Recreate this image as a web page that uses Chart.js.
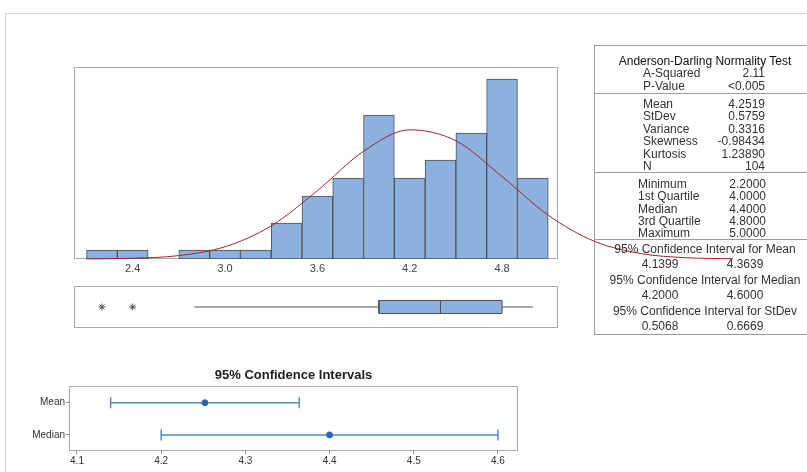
<!DOCTYPE html>
<html>
<head>
<meta charset="utf-8">
<script src="https://cdn.jsdelivr.net/npm/chart.js@4.4.1/dist/chart.umd.min.js"></script>
<style>
html, body { margin: 0; padding: 0; background: #fff; }
body { width: 807px; height: 472px; position: relative; overflow: hidden; font-family: "Liberation Sans", Arial, sans-serif; }
canvas { position: absolute; }
#outer { position: absolute; left: 5px; top: 13px; width: 830px; height: 480px; border-top: 1px solid #d6d6d6; border-left: 1px solid #d6d6d6; }
#stats { position: absolute; left: 594px; top: 45px; width: 240px; height: 290px; border: 1px solid #9c9c9c; box-sizing: border-box; }
.t { position: absolute; font-size: 12px; line-height: 14px; color: #333; white-space: nowrap; }
.sep { position: absolute; left: 594px; width: 240px; height: 0; border-top: 1px solid #9c9c9c; }
</style>
</head>
<body>
<div id="outer"></div>
<div id="stats"></div>
<canvas id="hist" width="807" height="290" style="left:0;top:0"></canvas>
<canvas id="box" width="807" height="56" style="left:0;top:280px"></canvas>
<canvas id="ci" width="587" height="112" style="left:0;top:360px"></canvas>
<script>
// histogram: bin midpoints and counts (bin width 0.2)
const binMid = [2.2, 2.4, 2.6, 2.8, 3.0, 3.2, 3.4, 3.6, 3.8, 4.0, 4.2, 4.4, 4.6, 4.8, 5.0];
const binCount = [1, 1, 0, 1, 1, 1, 4, 7, 9, 16, 9, 11, 14, 20, 9];
const histTicks = [2.4, 3.0, 3.6, 4.2, 4.8];

// fitted normal curve (in counts)
const fitX = [2.1, 2.4, 2.7, 3.0, 3.3, 3.6, 3.9, 4.2, 4.5, 4.8, 5.1, 5.4, 5.7, 6.0, 6.3];
const fitY = [0.01, 0.08, 0.38, 1.36, 3.68, 7.59, 11.96, 14.35, 13.13, 9.16, 4.87, 1.97, 0.61, 0.14, 0.03];

// boxplot: low whisker, Q1, median, Q3, high whisker, outliers
const boxStats = [2.8, 4.0, 4.4, 4.8, 5.0];
const boxOutliers = [2.2, 2.4];

// 95% confidence intervals
const ciRows = ['Mean', 'Median'];
const ciLow = [4.1399, 4.2000];
const ciEst = [4.2519, 4.4000];
const ciHigh = [4.3639, 4.6000];
const ciTicks = [4.1, 4.2, 4.3, 4.4, 4.5, 4.6];

// summary table
const adRows = [['A-Squared', '2.11'], ['P-Value', '<0.005']];
const momentRows = [['Mean', '4.2519'], ['StDev', '0.5759'], ['Variance', '0.3316'], ['Skewness', '-0.98434'], ['Kurtosis', '1.23890'], ['N', '104']];
const quantRows = [['Minimum', '2.2000'], ['1st Quartile', '4.0000'], ['Median', '4.4000'], ['3rd Quartile', '4.8000'], ['Maximum', '5.0000']];
const ciTable = [
  ['95% Confidence Interval for Mean', '4.1399', '4.3639'],
  ['95% Confidence Interval for Median', '4.2000', '4.6000'],
  ['95% Confidence Interval for StDev', '0.5068', '0.6669']
];

const X_MIN = 2.0186, X_MAX = 5.1635;
const BAR_BLUE = '#8db1de';
const EDGE = '#505050';

Chart.defaults.font.family = '"Liberation Sans", Arial, sans-serif';
Chart.defaults.animation = false;

const framePlugin = {
  id: 'frame',
  beforeDatasetsDraw(chart) {
    const a = chart.chartArea, ctx = chart.ctx;
    ctx.save();
    ctx.strokeStyle = '#a8a8a8';
    ctx.lineWidth = 1;
    ctx.strokeRect(Math.round(a.left) + 0.5, Math.round(a.top) + 0.5, Math.round(a.width) - 1, Math.round(a.height) - 1);
    ctx.restore();
  }
};

// --- histogram with fitted curve ---
new Chart(document.getElementById('hist'), {
  type: 'bar',
  data: {
    datasets: [{
      type: 'line',
      data: fitX.map((x, i) => ({ x: x, y: fitY[i] })),
      borderColor: '#a3232a',
      borderWidth: 1,
      pointRadius: 0,
      cubicInterpolationMode: 'monotone',
      clip: false,
      order: 0
    }, {
      data: binMid.map((x, i) => ({ x: x, y: binCount[i] })),
      backgroundColor: BAR_BLUE,
      borderColor: EDGE,
      borderWidth: c => (c.raw && c.raw.y ? 1 : 0),
      borderSkipped: false,
      barPercentage: 1,
      categoryPercentage: 1,
      order: 1
    }]
  },
  options: {
    responsive: false,
    layout: { padding: { left: 74, right: 249, top: 67, bottom: 11 } },
    plugins: { legend: { display: false }, tooltip: { enabled: false } },
    scales: {
      x: {
        type: 'linear',
        bounds: 'data',
        offset: false,
        afterDataLimits(s) { s.min = X_MIN; s.max = X_MAX; },
        afterBuildTicks(s) { s.ticks = histTicks.map(v => ({ value: v })); },
        afterFit(s) { s.height = 20; },
        grid: { display: false, drawTicks: false },
        border: { display: false },
        ticks: { padding: 3, color: '#444', font: { size: 11 }, callback: v => v.toFixed(1) }
      },
      y: { display: false, min: 0, max: 21.33 }
    }
  },
  plugins: [framePlugin]
});

// --- boxplot ---
const BOX_H = 0.31;
const [wLo, q1, med, q3, wHi] = boxStats;
new Chart(document.getElementById('box'), {
  type: 'scatter',
  data: {
    datasets: [
      // median first so it is drawn on top of the box
      { type: 'line', data: [{ x: med, y: -BOX_H }, { x: med, y: BOX_H }], borderColor: EDGE, borderWidth: 1, pointRadius: 0 },
      {
        type: 'line',
        data: [{ x: q1, y: -BOX_H }, { x: q3, y: -BOX_H }, { x: q3, y: BOX_H }, { x: q1, y: BOX_H }, { x: q1, y: -BOX_H }],
        borderColor: EDGE, borderWidth: 1, pointRadius: 0, fill: 'shape', backgroundColor: BAR_BLUE, tension: 0
      },
      { type: 'line', data: [{ x: wLo, y: 0 }, { x: q1, y: 0 }], borderColor: EDGE, borderWidth: 1, pointRadius: 0 },
      { type: 'line', data: [{ x: q3, y: 0 }, { x: wHi, y: 0 }], borderColor: EDGE, borderWidth: 1, pointRadius: 0 },
      {
        data: boxOutliers.map(x => ({ x: x, y: 0 })),
        pointStyle: 'star', pointRadius: 3.5, borderColor: EDGE, borderWidth: 1, backgroundColor: EDGE
      }
    ]
  },
  options: {
    responsive: false,
    layout: { padding: { left: 74, right: 249, top: 6, bottom: 8 } },
    plugins: { legend: { display: false }, tooltip: { enabled: false } },
    scales: {
      x: { type: 'linear', display: false, min: X_MIN, max: X_MAX },
      y: { type: 'linear', display: false, min: -1, max: 1 }
    }
  },
  plugins: [framePlugin]
});

// --- confidence intervals ---
const CI_BLUE = '#4f89cc';
const rowY = i => ciRows.length - 1 - i;
const ciSets = ciRows.map((r, i) => ({
  type: 'line',
  data: [{ x: ciLow[i], y: rowY(i) }, { x: ciHigh[i], y: rowY(i) }],
  borderColor: CI_BLUE,
  borderWidth: 1.5,
  pointStyle: 'line',
  pointRotation: 90,
  pointRadius: 5.5,
  pointBorderWidth: 1.5,
  pointBorderColor: CI_BLUE
}));
ciSets.unshift({
  data: ciRows.map((r, i) => ({ x: ciEst[i], y: rowY(i) })),
  pointRadius: 3,
  backgroundColor: '#2d67b0',
  borderColor: '#2d67b0'
});

new Chart(document.getElementById('ci'), {
  type: 'scatter',
  data: { datasets: ciSets },
  options: {
    responsive: false,
    layout: { padding: { left: 0, right: 0, top: 0, bottom: 5 } },
    plugins: {
      legend: { display: false },
      tooltip: { enabled: false },
      title: {
        display: true,
        text: '95% Confidence Intervals',
        color: '#222',
        font: { size: 13, weight: 'bold' },
        padding: { top: 8, bottom: 2 }
      }
    },
    scales: {
      x: {
        type: 'linear',
        min: 4.0905,
        max: 4.6238,
        afterBuildTicks(s) { s.ticks = ciTicks.map(v => ({ value: v })); },
        afterFit(s) { s.height = 16; },
        grid: { drawOnChartArea: false, tickLength: 3, color: '#888' },
        border: { display: false },
        ticks: { padding: 1, color: '#333', font: { size: 10 }, callback: v => v.toFixed(1) }
      },
      y: {
        type: 'linear',
        min: -0.5,
        max: 1.53,
        afterBuildTicks(s) { s.ticks = ciRows.map((r, i) => ({ value: rowY(i) })); },
        afterFit(s) { s.width = 69; },
        grid: { drawOnChartArea: false, tickLength: 3, color: '#888' },
        border: { display: false },
        ticks: { padding: 1, color: '#333', font: { size: 10 }, callback: v => ciRows[ciRows.length - 1 - v] }
      },
      yRight: {
        type: 'linear',
        position: 'right',
        afterFit(s) { s.width = 69; },
        grid: { display: false, drawTicks: false },
        border: { display: false },
        ticks: { display: false }
      }
    }
  },
  plugins: [framePlugin]
});

// --- summary table text ---
function put(str, x, y, align, color) {
  const s = document.createElement('span');
  s.className = 't';
  s.textContent = str;
  s.style.top = (y - 7) + 'px';
  if (align === 'right') s.style.right = (807 - x) + 'px';
  else if (align === 'center') { s.style.left = x + 'px'; s.style.transform = 'translateX(-50%)'; }
  else s.style.left = x + 'px';
  if (color) s.style.color = color;
  document.body.appendChild(s);
}
function sep(y) {
  const d = document.createElement('div');
  d.className = 'sep';
  d.style.top = y + 'px';
  document.body.appendChild(d);
}

put('Anderson-Darling Normality Test', 705, 61, 'center', '#111');
adRows.forEach((r, i) => { put(r[0], 643, 73 + i * 12.8, 'left'); put(r[1], 765, 73 + i * 12.8, 'right'); });
sep(93);
momentRows.forEach((r, i) => { put(r[0], 643, 104 + i * 12.4, 'left'); put(r[1], 765, 104 + i * 12.4, 'right'); });
sep(172);
quantRows.forEach((r, i) => { put(r[0], 638, 184 + i * 12.25, 'left'); put(r[1], 766, 184 + i * 12.25, 'right'); });
sep(239);
ciTable.forEach((r, i) => {
  const y = 249 + i * 31;
  put(r[0], 705, y, 'center');
  put(r[1], 660, y + 15, 'center');
  put(r[2], 745, y + 15, 'center');
});
</script>
</body>
</html>
